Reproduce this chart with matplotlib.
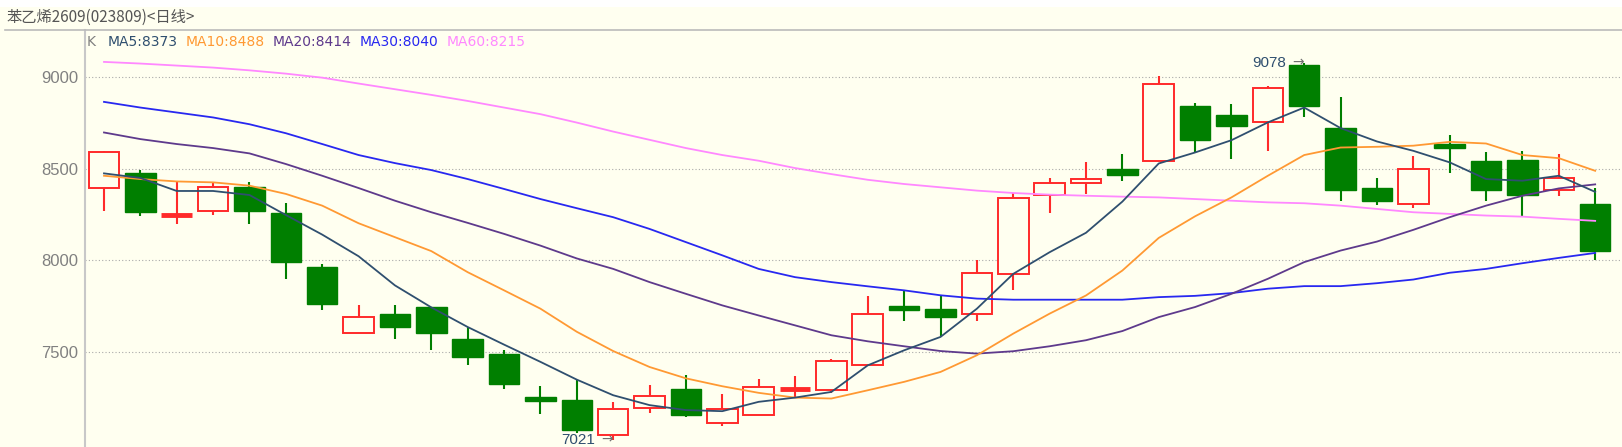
import matplotlib
matplotlib.use("Agg")
import matplotlib.pyplot as plt
from matplotlib.patches import Rectangle
from matplotlib.lines import Line2D

# 日线K线数据 (开, 高, 低, 收)
opens = [8392, 8478, 8247, 8271, 8398, 8258, 7961, 7605, 7707, 7743,
         7572, 7489, 7255, 7240, 7048, 7195, 7297, 7114, 7154, 7299,
         7295, 7429, 7748, 7736, 7705, 7925, 8356, 8420, 8498, 8539,
         8844, 8795, 8752, 9065, 8719, 8392, 8305, 8632, 8539, 8548,
         8385, 8307]
highs = [8597, 8492, 8434, 8425, 8429, 8313, 7982, 7757, 7757, 7743,
         7636, 7509, 7313, 7349, 7228, 7318, 7372, 7268, 7353, 7367,
         7460, 7805, 7839, 7805, 8002, 8365, 8449, 8534, 8577, 9007,
         8859, 8853, 8953, 9078, 8888, 8450, 8570, 8683, 8592, 8597,
         8577, 8392]
lows = [8267, 8240, 8198, 8247, 8198, 7899, 7727, 7605, 7569, 7513,
        7427, 7300, 7164, 7056, 7021, 7168, 7146, 7096, 7154, 7251,
        7277, 7429, 7667, 7586, 7667, 7836, 8260, 8362, 8430, 8539,
        8588, 8552, 8594, 8784, 8325, 8302, 8284, 8474, 8325, 8240,
        8352, 7999]
closes = [8590, 8262, 8247, 8398, 8269, 7988, 7759, 7692, 7634, 7605,
          7471, 7324, 7231, 7074, 7190, 7260, 7154, 7188, 7309, 7299,
          7451, 7705, 7727, 7690, 7932, 8342, 8420, 8443, 8467, 8964,
          8657, 8733, 8942, 8840, 8381, 8325, 8498, 8614, 8381, 8354,
          8449, 8050]

# 均线
ma5 = [8474, 8449, 8378, 8378, 8356, 8247, 8140, 8022, 7863, 7743,
       7636, 7540, 7446, 7349, 7264, 7210, 7183, 7177, 7228, 7251,
       7282, 7427, 7509, 7582, 7736, 7926, 8044, 8150, 8320, 8528,
       8588, 8655, 8752, 8833, 8721, 8648, 8597, 8534, 8443, 8434,
       8461, 8373]
ma10 = [8461, 8443, 8430, 8425, 8407, 8362, 8298, 8202, 8126, 8050,
        7935, 7836, 7736, 7610, 7505, 7418, 7356, 7313, 7277, 7251,
        7246, 7291, 7337, 7391, 7482, 7600, 7709, 7808, 7944, 8122,
        8240, 8343, 8461, 8574, 8615, 8619, 8625, 8646, 8637, 8574,
        8557, 8488]
ma20 = [8697, 8661, 8634, 8612, 8583, 8525, 8461, 8394, 8325, 8262,
        8204, 8144, 8080, 8010, 7953, 7881, 7817, 7754, 7699, 7645,
        7591, 7558, 7531, 7505, 7491, 7504, 7531, 7564, 7614, 7690,
        7745, 7817, 7899, 7990, 8053, 8102, 8166, 8235, 8298, 8352,
        8392, 8414]
ma30 = [8864, 8833, 8806, 8779, 8742, 8693, 8634, 8574, 8530, 8492,
        8443, 8389, 8334, 8284, 8235, 8171, 8099, 8027, 7953, 7908,
        7881, 7858, 7836, 7809, 7791, 7785, 7785, 7785, 7785, 7799,
        7806, 7821, 7845, 7859, 7859, 7875, 7895, 7932, 7953, 7984,
        8013, 8040]
ma60 = [9082, 9073, 9062, 9051, 9036, 9018, 8996, 8964, 8933, 8902,
        8869, 8833, 8797, 8751, 8702, 8657, 8612, 8574, 8543, 8503,
        8470, 8439, 8416, 8398, 8380, 8367, 8358, 8352, 8347, 8343,
        8334, 8325, 8316, 8311, 8298, 8280, 8262, 8253, 8244, 8238,
        8226, 8215]

ma_names = ["MA5", "MA10", "MA20", "MA30", "MA60"]
ma_last = [8373, 8488, 8414, 8040, 8215]
yticks = [7500, 8000, 8500, 9000]
title = "苯乙烯2609(023809)<日线>"

BG = "#FFFFF0"
RED = "#FF2A2A"
GREEN = "#007F00"
ma_colors = ["#2F4F6F", "#FF9933", "#5E3A8C", "#2828F0", "#FF88FF"]

W, H = 1622, 447
fig = plt.figure(figsize=(W / 100, H / 100), dpi=100, facecolor=BG)
ax = fig.add_axes([85 / W, 0, (W - 85) / W, (H - 30) / H])
ax.set_facecolor(BG)

# 顶部白条和标题栏分隔线
fig.patches.append(Rectangle((0, 1 - 7 / H), 1, 7 / H, transform=fig.transFigure,
                             facecolor="white", edgecolor="none"))
fig.lines.append(Line2D([5 / W, 1], [1 - 29.5 / H, 1 - 29.5 / H], transform=fig.transFigure,
                        color="#BBBBBB", lw=1.2))
fig.text(7 / W, 1 - 17 / H, title, ha="left", va="center", fontsize=11, color="#555555",
         family=["Noto Sans CJK SC", "DejaVu Sans"])

# 均线图例
fig.text(87 / W, 1 - 42 / H, "K", ha="left", va="center", fontsize=10, color="#808080")
legend_x = [108, 186, 273, 360, 447]
for name, val, col, lx in zip(ma_names, ma_last, ma_colors, legend_x):
    fig.text(lx / W, 1 - 42 / H, f"{name}:{val}", ha="left", va="center",
             fontsize=10, color=col)

# K线
bw = 0.84
for i, (o, h, l, c) in enumerate(zip(opens, highs, lows, closes)):
    top, bot = max(o, c), min(o, c)
    if c >= o:
        col = RED
        if o == c:
            ax.vlines(i, l, h, color=col, lw=1.5, zorder=3)
            ax.hlines(o, i - bw / 2, i + bw / 2, color=col, lw=3.5, zorder=3)
            continue
        ax.vlines(i, top, h, color=col, lw=1.5, zorder=3)
        ax.vlines(i, l, bot, color=col, lw=1.5, zorder=3)
        ax.add_patch(Rectangle((i - bw / 2, bot), bw, top - bot, facecolor=BG,
                               edgecolor=col, lw=1.4, zorder=3))
    else:
        col = GREEN
        ax.vlines(i, l, h, color=col, lw=1.5, zorder=2)
        ax.add_patch(Rectangle((i - bw / 2, bot), bw, top - bot, facecolor=col,
                               edgecolor=col, lw=1.0, zorder=3))

x = range(len(closes))
for ser, col in zip([ma60, ma30, ma20, ma10, ma5], ma_colors[::-1]):
    ax.plot(x, ser, color=col, lw=1.3, zorder=4)

# 最高/最低标记
hi_i = highs.index(max(highs))
lo_i = lows.index(min(lows))
for idx, v in [(hi_i, highs[hi_i]), (lo_i, lows[lo_i])]:
    ax.annotate("→", xy=(idx, v), ha="right", va="center", fontsize=10,
                color="#707070", zorder=5)
    ax.annotate(f"{v}", xy=(idx, v), xytext=(-13, 0), textcoords="offset points",
                ha="right", va="center", fontsize=11, color="#2F4F6F",
                family="Liberation Sans", zorder=5)

ax.set_xlim((85 - 104) / 36.37, (W - 104) / 36.37)
ax.set_ylim(6981.6, 9256)
ax.set_yticks(yticks)
ax.set_xticks([])
ax.tick_params(axis="y", length=0, pad=5, labelsize=12, labelcolor="#808080")
for lab in ax.get_yticklabels():
    lab.set_family("Liberation Sans")
ax.grid(axis="y", linestyle=(0, (1, 2)), color="#AAAAAA", lw=0.8)
ax.set_axisbelow(True)
for s in ["top", "right", "bottom"]:
    ax.spines[s].set_visible(False)
ax.spines["left"].set_color("#C8C8C8")
ax.spines["left"].set_linewidth(1.5)

fig.savefig("out.png", dpi=100, facecolor=BG)
